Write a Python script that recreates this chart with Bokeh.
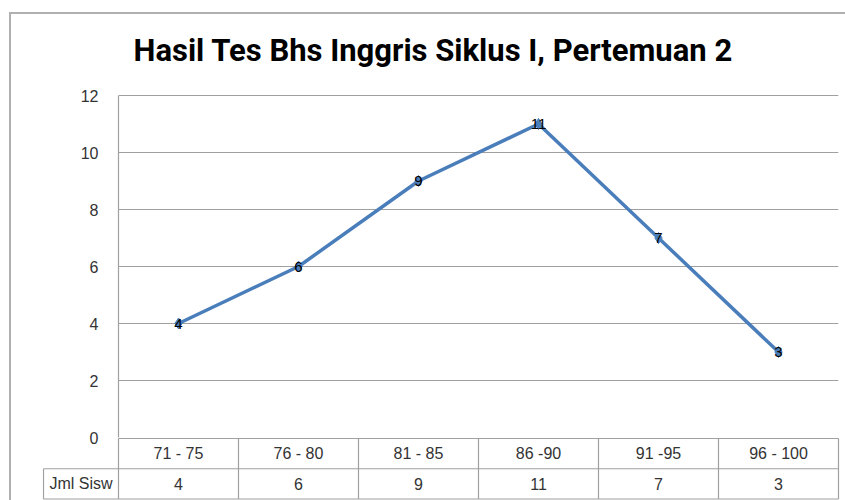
from bokeh.plotting import figure
from bokeh.models import Range1d, FixedTicker, ColumnDataSource, InlineStyleSheet
from bokeh.layouts import column
from bokeh.embed import file_html
from bokeh.resources import INLINE
from bokeh.core.properties import value

# ---- data ----
title_text = "Hasil Tes Bhs Inggris Siklus I, Pertemuan 2"
categories = ["71 - 75", "76 - 80", "81 - 85", "86 -90", "91 -95", "96 - 100"]
counts = [4, 6, 9, 11, 7, 3]
series_name = "Jml Sisw"
y_ticks = [0, 2, 4, 6, 8, 10, 12]

# ---- layout constants ----
W = 845
FRAME_L = 118
FRAME_R = 838
FRAME_T = 95
FRAME_B = 437
OVERLAP = 14
H1 = FRAME_B + OVERLAP
H2 = 63
ROW_PX = 30.25
LABEL_CELL_PX = 75

LINE_BLUE = "#4A7EBB"
GRID = "#a0a0a0"
TXT = "#333333"
FONT = "Liberation Sans"

n = len(categories)
xs = [i + 0.5 for i in range(n)]
src = ColumnDataSource(dict(x=xs, y=counts, label=[str(c) for c in counts]))

ymax = max(y_ticks)
ppu_y = (FRAME_B - FRAME_T) / ymax

# ---- main chart ----
p1 = figure(width=W, height=H1, output_backend="svg", toolbar_location=None,
            x_range=Range1d(0, n), y_range=Range1d(0, ymax + 1 / ppu_y),
            x_axis_location=None,
            min_border_left=FRAME_L, min_border_right=W - FRAME_R,
            min_border_top=FRAME_T - 1, min_border_bottom=OVERLAP)
p1.outline_line_color = None
p1.background_fill_color = "white"
p1.border_fill_color = "white"
p1.xgrid.visible = False
p1.yaxis.ticker = FixedTicker(ticks=y_ticks)
p1.ygrid.ticker = FixedTicker(ticks=y_ticks)
p1.ygrid.grid_line_color = GRID
p1.ygrid.grid_line_width = 1.2
p1.yaxis.axis_line_color = GRID
p1.yaxis.axis_line_width = 1.2
p1.yaxis.bounds = (0, ymax)
p1.yaxis.major_tick_in = 0
p1.yaxis.major_tick_out = 0
p1.yaxis.minor_tick_line_color = None
p1.yaxis.major_label_standoff = 20
p1.yaxis.major_label_text_font = FONT
p1.yaxis.major_label_text_font_size = "16px"
p1.yaxis.major_label_text_color = TXT

p1.title.text = title_text
p1.title.align = "left"
p1.title.offset = 15
p1.title.standoff = 52
p1.title.text_font = "Roboto"
p1.title.text_font_style = "bold"
p1.title.text_font_size = "31px"
p1.title.text_color = "#000000"

p1.line("x", "y", source=src, line_color=LINE_BLUE, line_width=3.5)
p1.scatter("x", "y", source=src, marker="diamond", size=11,
           fill_color=LINE_BLUE, line_color=LINE_BLUE)
p1.text("x", "y", text="label", source=src, text_align="center",
        text_baseline="middle", text_font=value(FONT),
        text_font_size="15px", text_color="#000000")

# ---- data table ----
px = (FRAME_R - FRAME_L) / n
lw = LABEL_CELL_PX / px
p2 = figure(width=W, height=H2, output_backend="svg", toolbar_location=None,
            x_range=Range1d(-lw - 1 / px, n + (W - FRAME_R) / px),
            y_range=Range1d(-1.5 / ROW_PX, 2 + 1 / ROW_PX),
            x_axis_location=None, y_axis_location=None,
            min_border_left=FRAME_L - LABEL_CELL_PX - 1, min_border_right=0,
            min_border_top=0, min_border_bottom=0)
p2.outline_line_color = None
p2.grid.visible = False
p2.background_fill_color = None
p2.border_fill_color = None
p2.margin = (-OVERLAP, 0, 0, 0)

for p in (p1, p2):
    if "frame_align" in p.properties():
        p.frame_align = False

x0 = [0, -lw, -lw] + list(range(n + 1)) + [-lw]
x1 = [n, n, n] + list(range(n + 1)) + [-lw]
y0 = [2, 1, 0] + [0] * (n + 1) + [0]
y1 = [2, 1, 0] + [2] * (n + 1) + [1]
p2.segment(x0=x0, y0=y0, x1=x1, y1=y1, line_color=GRID, line_width=1.2)

p2.text(x=xs, y=[1.5] * n, text=categories, text_align="center",
        text_baseline="middle", text_font=value(FONT), text_font_size="16px",
        text_color=TXT)
p2.text(x=xs, y=[0.5] * n, text=[str(c) for c in counts], text_align="center",
        text_baseline="middle", text_font=value(FONT), text_font_size="16px",
        text_color=TXT)
p2.text(x=[-lw / 2], y=[0.5], text=[series_name], text_align="center",
        text_baseline="middle", text_font=value(FONT), text_font_size="16px",
        text_color=TXT)

chart_border = InlineStyleSheet(css="""
:host { position: relative; }
:host::after {
  content: ""; position: absolute; left: 9px; top: 12px; right: 0; bottom: 0;
  border-top: 2px solid #b0b0b0; border-left: 2px solid #b0b0b0;
  pointer-events: none;
}
""")

layout = column(p1, p2, spacing=0, stylesheets=[chart_border])
open("out.html", "w").write(file_html(layout, INLINE))
